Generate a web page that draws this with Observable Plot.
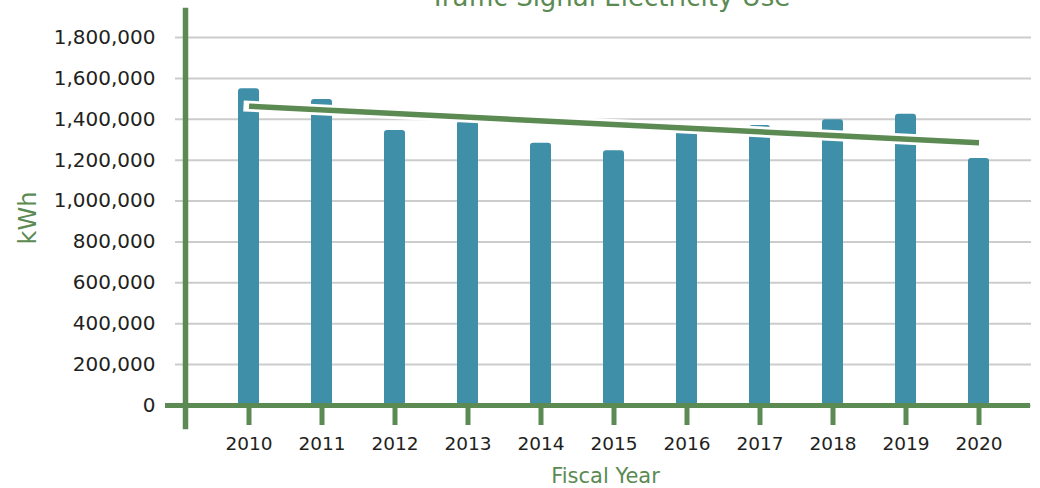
<!DOCTYPE html>
<html>
<head>
<meta charset="utf-8">
<script src="https://cdn.jsdelivr.net/npm/d3@7"></script>
<script src="https://cdn.jsdelivr.net/npm/@observablehq/plot@0.6"></script>
<style>
  html, body { margin: 0; padding: 0; background: #fff; }
  #wrap { position: relative; width: 1040px; height: 488px; overflow: hidden; font-family: "DejaVu Sans", sans-serif; }
  #title { position: absolute; top: -16px; left: 610px; transform: translateX(-50%); white-space: nowrap;
           font-size: 26px; line-height: 26px; color: #5b8a52; }
  #chart { position: absolute; left: 0; top: 0; }
</style>
</head>
<body>
<div id="wrap">
  <div id="chart"></div>
  <div id="title">Traffic Signal Electricity Use</div>
</div>
<script>
const years = ["2010","2011","2012","2013","2014","2015","2016","2017","2018","2019","2020"];
const kwh = [1549000, 1497000, 1345000, 1390000, 1283000, 1246000, 1345000, 1370000, 1398000, 1424000, 1208000];
const trendYears = ["2010", "2020"];
const trendKwh = [1464000, 1285000];
const yTicks = [0, 200000, 400000, 600000, 800000, 1000000, 1200000, 1400000, 1600000, 1800000];

const GREEN = "#5b8a52";
const TEAL = "#3f8fa8";
const INK = "#231f20";

const bars = years.map((y, i) => ({year: y, value: kwh[i]}));
const trend = trendYears.map((y, i) => ({year: y, value: trendKwh[i]}));

const chart = Plot.plot({
  width: 1040,
  height: 488,
  marginTop: 10,
  marginBottom: 83,
  marginLeft: 185,
  marginRight: 9,
  style: {fontFamily: "DejaVu Sans, sans-serif", background: "transparent"},
  x: {domain: years, paddingInner: 0.718, paddingOuter: 0.646, align: 0.558, axis: null},
  y: {domain: [0, 1932000], axis: null},
  marks: [
    Plot.ruleY(yTicks, {stroke: "#cccccc", strokeWidth: 2, insetLeft: -10}),
    Plot.barY(bars, {x: "year", y: "value", fill: TEAL, rx: 3}),
    Plot.line(trend, {x: "year", y: "value", stroke: "#ffffff", strokeWidth: 11, strokeLinecap: "square"}),
    Plot.line(trend, {x: "year", y: "value", stroke: GREEN, strokeWidth: 5.5, strokeLinecap: "butt"}),
    Plot.ruleY([0], {stroke: GREEN, strokeWidth: 5, insetLeft: -20, insetRight: 1}),
    Plot.frame({anchor: "left", stroke: GREEN, strokeWidth: 5.5, insetBottom: -21}),
    Plot.axisX({anchor: "bottom", tickSize: 20, tickPadding: 11, stroke: GREEN, strokeWidth: 5, fill: INK, fontSize: 18.5, label: null}),
    Plot.axisY({anchor: "left", ticks: yTicks, tickSize: 0, tickPadding: 30, tickFormat: d3.format(","), fill: INK, fontSize: 20, label: null}),
    Plot.text(["Fiscal Year"], {frameAnchor: "bottom", dx: -3, dy: 77, fill: GREEN, fontSize: 21, textAnchor: "middle"}),
    Plot.text(["kWh"], {frameAnchor: "left", dx: -157, dy: 10, rotate: -90, fill: GREEN, fontSize: 24, textAnchor: "middle"})
  ]
});
document.getElementById("chart").appendChild(chart);
</script>
</body>
</html>
